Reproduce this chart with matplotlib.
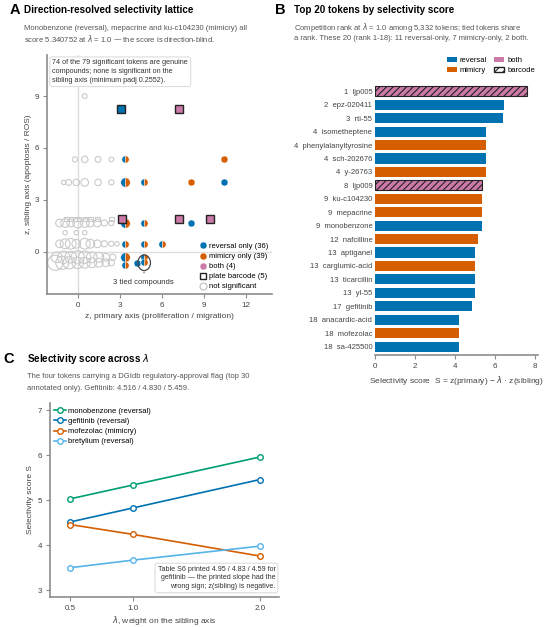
import matplotlib
matplotlib.use("Agg")
import matplotlib.pyplot as plt
from matplotlib.lines import Line2D
from matplotlib.patches import Patch, Circle

plt.rcParams['font.family'] = ['Liberation Sans', 'DejaVu Sans']
plt.rcParams['hatch.linewidth'] = 0.8

BLUE = '#0072B2'
ORANGE = '#D55E00'
PINK = '#CC79A7'
GREEN = '#009E73'
SKY = '#56B4E9'
GREY_TXT = '#555555'
SPINE = '#8c8c8c'

# ---- panel A data: z(primary), z(sibling) ----
rev_x = [10.47, 8.10, 4.20]
rev_y = [4.01, 1.66, -0.63]
mim_x = [10.47, 8.10]
mim_y = [5.34, 4.01]
# tokens where reversal and mimicry share a lattice cell
split_x = [3.38, 3.38, 4.74, 3.38, 4.74, 3.38, 4.74, 6.00, 3.38, 4.74, 4.74, 3.38]
split_y = [5.34, 4.01, 4.01, 1.66, 1.66, 0.46, 0.46, 0.46, -0.32, -0.32, -0.62, -0.75]
split_big = [0, 1, 0, 1, 0, 0, 0, 0, 1, 0, 0, 0]
bar_x = [3.10, 7.26, 3.19, 7.26, 9.47]
bar_y = [8.23, 8.23, 1.90, 1.90, 1.90]
bar_kind = ['reversal', 'both', 'both', 'both', 'both']
# not significant
ns_x = [0.5,
        -0.2, 0.5, 1.45, 2.4,
        -1.0, -0.65, -0.1, 0.5, 1.45, 2.4,
        -1.3, -0.9, -0.5, 0.0, 0.5, 0.9, 1.4, 1.9, 2.4,
        -0.9, -0.1, 0.5,
        -1.3, -0.9, -0.5, -0.1, 0.5, 0.9, 1.4, 1.9, 2.4, 2.8,
        -1.5, -1.0, -0.5, 0.0, 0.5, 1.0, 1.5, 2.0, 2.5,
        -1.6, -1.1, -0.6, 0.0, 0.5, 1.0, 1.5, 2.0, 2.4]
ns_y = [9.0,
        5.34, 5.34, 5.34, 5.34,
        4.01, 4.01, 4.01, 4.01, 4.01, 4.01,
        1.66, 1.66, 1.66, 1.66, 1.66, 1.66, 1.66, 1.66, 1.66,
        1.1, 1.1, 1.1,
        0.46, 0.46, 0.46, 0.46, 0.46, 0.46, 0.46, 0.46, 0.46, 0.46,
        -0.32, -0.32, -0.32, -0.32, -0.32, -0.32, -0.32, -0.32, -0.32,
        -0.64, -0.64, -0.64, -0.64, -0.64, -0.64, -0.64, -0.64, -0.64]
ns_s = [12,
        14, 22, 18, 12,
        10, 18, 22, 30, 22, 14,
        30, 40, 30, 50, 40, 30, 30, 20, 14,
        10, 10, 10,
        30, 50, 60, 40, 60, 40, 30, 20, 14, 10,
        60, 80, 70, 90, 80, 60, 50, 30, 20,
        120, 90, 80, 70, 60, 50, 40, 30, 20]
ns_sq_x = [-0.8, -0.5, -0.2, 0.1, 0.5, 0.9, 1.4, 2.4]
ns_sq_y = [1.90] * 8

# ---- panel B data ----
ranks = [1, 2, 3, 4, 4, 4, 4, 8, 9, 9, 9, 12, 13, 13, 13, 13, 17, 18, 18, 18]
tokens = ['ljp005', 'epz-020411', 'rti-55', 'isometheptene', 'phenylalanyltyrosine',
          'sch-202676', 'y-26763', 'ljp009', 'ku-c104230', 'mepacrine', 'monobenzone',
          'nafcilline', 'aptiganel', 'carglumic-acid', 'ticarcillin', 'yl-55',
          'gefitinib', 'anacardic-acid', 'mofezolac', 'sa-425500']
scores = [7.60, 6.45, 6.40, 5.53, 5.53, 5.53, 5.53, 5.37, 5.34, 5.34, 5.34,
          5.17, 5.00, 5.00, 5.00, 5.00, 4.83, 4.22, 4.22, 4.22]
kinds = ['both', 'reversal', 'reversal', 'reversal', 'mimicry', 'reversal', 'mimicry',
         'both', 'mimicry', 'mimicry', 'reversal', 'mimicry', 'reversal', 'mimicry',
         'reversal', 'reversal', 'reversal', 'reversal', 'mimicry', 'reversal']
barcode = [True, False, False, False, False, False, False, True] + [False] * 12

# ---- panel C data ----
lambdas = [0.5, 1.0, 2.0]
lam_series = {
    'monobenzone (reversal)': [5.03, 5.34, 5.96],
    'gefitinib (reversal)': [4.516, 4.830, 5.459],
    'mofezolac (mimicry)': [4.46, 4.24, 3.76],
    'bretylium (reversal)': [3.50, 3.67, 3.98],
}
lam_colors = [GREEN, BLUE, ORANGE, SKY]

kind_color = {'reversal': BLUE, 'mimicry': ORANGE, 'both': PINK}


def style(ax):
    for s in ['top', 'right']:
        ax.spines[s].set_visible(False)
    for s in ['left', 'bottom']:
        ax.spines[s].set_color(SPINE)
        ax.spines[s].set_linewidth(1.2)
    ax.tick_params(colors=SPINE, labelcolor='#444444', labelsize=5.8, length=3, width=0.8, pad=2.5)


def heading(x, tx, y, letter, title, sub):
    fig.text(x / 550, 1 - y / 627, letter, fontsize=10.5, fontweight='bold', va='center')
    fig.text(tx / 550, 1 - y / 627, title, fontsize=7.15, fontweight='bold', va='center')
    for i, line in enumerate(sub):
        fig.text(tx / 550, 1 - (y + 18 + 11 * i) / 627, line, fontsize=5.5,
                 color=GREY_TXT, va='center')


fig = plt.figure(figsize=(5.5, 6.27), dpi=100)

# ================= A =================
ax = fig.add_axes([0.085, 0.531, 0.41, 0.381])
style(ax)
ax.axhline(0, color='#dddddd', lw=1, zorder=0)
ax.axvline(0, color='#dddddd', lw=1, zorder=0)
ax.scatter(ns_x, ns_y, s=ns_s, facecolors='none', edgecolors='#cacaca', linewidths=0.8, zorder=1)
ax.scatter(ns_sq_x, ns_sq_y, s=10, marker='s', facecolors='none', edgecolors='#cacaca',
           linewidths=0.8, zorder=1)
ax.plot(rev_x, rev_y, 'o', color=BLUE, ms=5, mec='white', mew=0.3, zorder=3)
ax.plot(mim_x, mim_y, 'o', color=ORANGE, ms=5, mec='white', mew=0.3, zorder=3)
for x, y, big in zip(split_x, split_y, split_big):
    ax.plot(x, y, 'o', ms=6.8 if big else 5.2, fillstyle='left', markerfacecolor=BLUE,
            markerfacecoloralt=ORANGE, mec='white', mew=0.3, zorder=3)
for x, y, k in zip(bar_x, bar_y, bar_kind):
    ax.plot(x, y, 's', ms=5.5, mfc=kind_color[k], mec='#222222', mew=1.0, zorder=4)
ax.add_patch(Circle((4.74, -0.64), 0.45, fill=False, ec='#444444', lw=0.9, zorder=5))
ax.annotate('3 tied compounds', xy=(4.74, -1.02), xytext=(4.7, -1.55),
            ha='center', va='top', fontsize=5.5, color='#333333',
            arrowprops=dict(arrowstyle='-', color='#444444', lw=0.7))
ax.text(0.025, 0.982, '74 of the 79 significant tokens are genuine\ncompounds; none is significant on the\n'
        'sibling axis (minimum padj 0.2552).', transform=ax.transAxes, va='top', ha='left',
        fontsize=5.25, color='#333333', linespacing=1.35,
        bbox=dict(boxstyle='round,pad=0.35', fc='white', ec='#dddddd', lw=0.8), zorder=6)
ax.set_xlim(-2.21, 13.88)
ax.set_ylim(-2.45, 11.37)
ax.set_xticks([0, 3, 6, 9, 12])
ax.set_yticks([0, 3, 6, 9])
ax.set_xlabel('z, primary axis (proliferation / migration)', fontsize=6, color='#444444', labelpad=3)
ax.set_ylabel('z, sibling axis (apoptosis / ROS)', fontsize=6, color='#444444', labelpad=2)
handles = [
    Line2D([], [], ls='', marker='o', ms=5, color=BLUE, mec='white', mew=0.3),
    Line2D([], [], ls='', marker='o', ms=5, color=ORANGE, mec='white', mew=0.3),
    Line2D([], [], ls='', marker='o', ms=5, color=PINK, mec='white', mew=0.3),
    Line2D([], [], ls='', marker='s', ms=5, mfc='none', mec='#222222', mew=1.0),
    Line2D([], [], ls='', marker='o', ms=5, mfc='none', mec='#bbbbbb', mew=0.8),
]
labels = ['reversal only (36)', 'mimicry only (39)', 'both (4)', 'plate barcode (5)', 'not significant']
ax.legend(handles, labels, loc='lower right', fontsize=5.5, frameon=False, handletextpad=0.3,
          labelspacing=0.35, borderaxespad=0.1, handlelength=1.0, bbox_to_anchor=(1.0, 0.0))

heading(10, 24, 10, 'A', 'Direction-resolved selectivity lattice',
        ['Monobenzone (reversal), mepacrine and ku-c104230 (mimicry) all',
         'score 5.340752 at $\\lambda$ = 1.0 — the score is direction-blind.'])

# ================= B =================
bx = fig.add_axes([0.682, 0.434, 0.296, 0.430])
style(bx)
bx.spines['left'].set_visible(False)
ypos = list(range(len(tokens)))
for i, (sc, k, bc) in enumerate(zip(scores, kinds, barcode)):
    if bc:
        bx.barh(i, sc, height=0.75, color=kind_color[k], edgecolor='#222222', hatch='/////', lw=0.8)
    else:
        bx.barh(i, sc, height=0.75, color=kind_color[k], lw=0)
bx.set_yticks(ypos)
bx.set_yticklabels([f'{r}  {t}' for r, t in zip(ranks, tokens)])
bx.tick_params(axis='y', length=0, pad=2, labelsize=5.5)
bx.set_xlim(0, 8.15)
bx.set_ylim(19.62, -0.45)
bx.set_xticks([0, 2, 4, 6, 8])
bx.set_xlabel('Selectivity score  S = z(primary) − $\\lambda$ · z(sibling)', fontsize=6,
              color='#444444', labelpad=3)
bhandles = [Patch(fc=BLUE), Patch(fc=ORANGE), Patch(fc=PINK),
            Patch(fc='white', ec='#222222', hatch='////')]
bx.legend(bhandles, ['reversal', 'mimicry', 'both', 'barcode'], ncol=2, fontsize=5.5,
          frameon=False, loc='lower right', bbox_to_anchor=(1.0, 1.03), handlelength=1.3,
          handleheight=0.7, handletextpad=0.4, columnspacing=0.9, labelspacing=0.3, borderaxespad=0)

heading(275, 294, 10, 'B', 'Top 20 tokens by selectivity score',
        ['Competition rank at $\\lambda$ = 1.0 among 5,332 tokens; tied tokens share',
         'a rank. These 20 (rank 1-18): 11 reversal-only, 7 mimicry-only, 2 both.'])

# ================= C =================
cx = fig.add_axes([0.091, 1 - 597 / 627, 0.416, 194 / 627])
style(cx)
for (name, vals), col in zip(lam_series.items(), lam_colors):
    cx.plot(lambdas, vals, '-o', color=col, lw=1.2, ms=4, mfc='white', mew=1.0, label=name)
cx.set_xlim(0.342, 2.15)
cx.set_ylim(2.85, 7.16)
cx.set_xticks(lambdas)
cx.set_xticklabels(['0.5', '1.0', '2.0'])
cx.set_yticks([3, 4, 5, 6, 7])
cx.set_xlabel('$\\lambda$, weight on the sibling axis', fontsize=6, color='#444444', labelpad=1.5)
cx.set_ylabel('Selectivity score S', fontsize=6, color='#444444', labelpad=3)
cx.legend(loc='upper left', fontsize=5.5, frameon=False, handlelength=1.6, handletextpad=0.3,
          labelspacing=0.35, borderaxespad=0.1, bbox_to_anchor=(0.0, 0.995))
cx.text(0.985, 0.035, 'Table S6 printed 4.95 / 4.83 / 4.59 for\ngefitinib — the printed slope had the\n'
        'wrong sign; z(sibling) is negative.', transform=cx.transAxes, ha='right', va='bottom',
        multialignment='right', fontsize=5.15, color='#333333', linespacing=1.35,
        bbox=dict(boxstyle='round,pad=0.35', fc='white', ec='#dddddd', lw=0.8))

heading(3, 27, 359, 'C', 'Selectivity score across $\\lambda$',
        ['The four tokens carrying a DGIdb regulatory-approval flag (top 30',
         'annotated only). Gefitinib: 4.516 / 4.830 / 5.459.'])

fig.savefig('out.png', dpi=100)
